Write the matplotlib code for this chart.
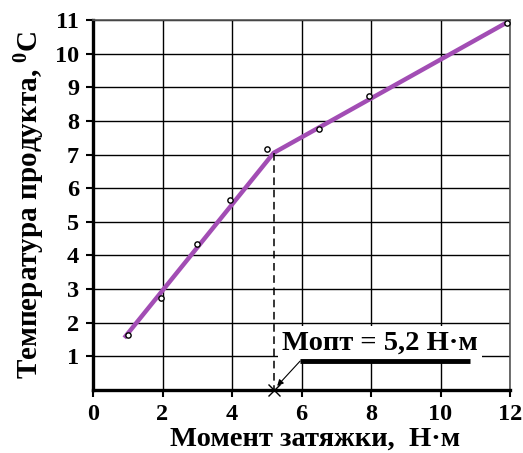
import matplotlib
matplotlib.use("Agg")
import matplotlib.pyplot as plt

# Measured points: tightening torque (N·m) vs product temperature (°C)
torque = [1.0, 1.95, 3.0, 3.95, 5.0, 6.5, 7.95, 11.9]
temperature = [1.65, 2.75, 4.35, 5.65, 7.15, 7.75, 8.75, 10.9]

# Two-segment approximation with a break at the optimum torque
m_opt = 5.2
fit_x = [0.9, m_opt, 11.95]
fit_y = [1.55, 7.05, 10.95]

x_ticks = [0, 2, 4, 6, 8, 10, 12]
y_ticks = [1, 2, 3, 4, 5, 6, 7, 8, 9, 10, 11]

plt.rcParams["font.family"] = ["Liberation Serif", "DejaVu Serif"]
plt.rcParams["font.weight"] = "bold"
plt.rcParams["mathtext.fontset"] = "custom"
plt.rcParams["mathtext.rm"] = "Liberation Serif:bold"
plt.rcParams["mathtext.it"] = "Liberation Serif:bold"
plt.rcParams["mathtext.bf"] = "Liberation Serif:bold"

fig = plt.figure(figsize=(5.23, 4.53), dpi=100)
ax = fig.add_axes([93 / 523, 63 / 453, 417 / 523, 370 / 453])

ax.set_xlim(0, 12)
ax.set_ylim(0, 11)
ax.set_xticks(x_ticks)
ax.set_yticks(y_ticks)
ax.grid(True, color="black", linewidth=1.0)
ax.set_axisbelow(True)

for side in ("left", "bottom"):
    ax.spines[side].set_linewidth(2.4)
    ax.spines[side].set_color("black")
for side in ("top", "right"):
    ax.spines[side].set_linewidth(1.2)
    ax.spines[side].set_color("#555555")

ax.tick_params(axis="both", direction="out", length=5, width=1.5,
               labelsize=17.5, colors="black")
ax.tick_params(axis="x", pad=5)
ax.tick_params(axis="y", pad=5)
for lbl in ax.get_xticklabels() + ax.get_yticklabels():
    lbl.set_fontweight("bold")

# Fitted broken line
ax.plot(fit_x, fit_y, color="#A24DB4", linewidth=3.2, solid_capstyle="butt",
        zorder=3, clip_on=False)

# Measured points
ax.plot(torque, temperature, linestyle="none", marker="o", markersize=3.8,
        markerfacecolor="white", markeredgecolor="black", markeredgewidth=1.0,
        zorder=4, clip_on=False)

# Drop line from the break point to the torque axis
ax.plot([m_opt, m_opt], [fit_y[1], 0], color="black", linestyle=(0, (5, 3)),
        linewidth=1.1, zorder=3)
ax.plot([m_opt], [0], marker="x", markersize=8, color="black",
        markeredgewidth=1.0, zorder=5, clip_on=False)

# Annotation of the optimum torque
ax.text(8.25, 1.4, "Мопт = 5,2 Н·м", fontsize=20.5, fontweight="bold",
        ha="center", va="center", zorder=6,
        bbox=dict(facecolor="white", edgecolor="none", pad=3))
ax.plot([5.96, 10.85], [0.86, 0.86], color="black", linewidth=3.5,
        solid_capstyle="butt", zorder=6)
ax.annotate("", xy=(m_opt + 0.1, 0.12), xytext=(5.96, 0.86),
            arrowprops=dict(arrowstyle="-|>", color="black", lw=0.8,
                            mutation_scale=9, shrinkA=0, shrinkB=0),
            zorder=6)

ax.set_xlabel("Момент затяжки,  Н·м", fontsize=20.5, fontweight="bold")
ax.xaxis.set_label_coords(0.533, -0.098)
ax.set_ylabel("Температура продукта, $^{0}$C", fontsize=21,
              fontweight="bold", labelpad=6)

fig.savefig("out.png", dpi=100)
